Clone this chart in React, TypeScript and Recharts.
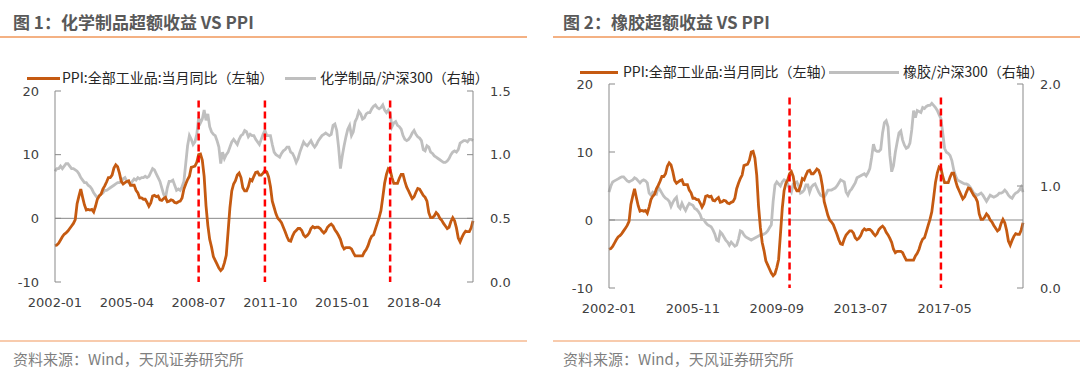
import React from "react";
import { LineChart, Line, XAxis, YAxis, ReferenceLine } from "recharts";

// monthly categories, 2002-01 .. 2020-12
const months: string[] = [];
for (let y = 2002; y <= 2020; y++) {
  for (let m = 1; m <= 12; m++) months.push(`${y}-${String(m).padStart(2, "0")}`);
}

// PPI:全部工业品:当月同比 (%)
const ppi = [
  -4.3, -4.2, -3.9, -3.4, -2.9, -2.5, -2.3, -2.0, -1.6, -1.2, -0.8, -0.2,
  2.3, 3.5, 4.6, 3.3, 2.1, 1.3, 1.4, 1.3, 1.4, 1.0, 1.9, 3.0,
  3.5, 3.8, 4.6, 5.1, 5.7, 6.4, 6.4, 6.8, 7.9, 8.4, 8.1, 7.1,
  5.8, 5.4, 5.6, 5.8, 5.9, 5.2, 5.2, 5.2, 4.4, 4.0, 3.2, 3.2,
  3.0, 3.0, 2.5, 1.9, 2.4, 3.5, 3.6, 3.4, 3.5, 2.9, 2.8, 3.1,
  3.3, 2.6, 2.7, 2.9, 2.8, 2.5, 2.4, 2.6, 2.7, 3.2, 4.6, 5.4,
  6.1, 6.6, 8.0, 8.1, 8.2, 8.8, 10.0, 10.1, 9.1, 6.6, 2.0, -1.1,
  -3.3, -4.5, -6.0, -6.6, -7.2, -7.8, -8.2, -7.9, -7.0, -5.8, -2.1, 1.7,
  4.3, 5.4, 5.9, 6.8, 7.1, 6.4, 4.8, 4.3, 4.3, 5.0, 6.1, 5.9,
  6.6, 7.2, 7.3, 6.8, 6.8, 7.1, 7.5, 7.3, 6.5, 5.0, 2.7, 1.7,
  0.7, 0.0, -0.3, -0.7, -1.4, -2.1, -2.9, -3.5, -3.6, -2.8, -2.2, -1.9,
  -1.6, -1.6, -1.9, -2.6, -2.9, -2.7, -2.3, -1.6, -1.3, -1.5, -1.4, -1.4,
  -1.6, -2.0, -2.3, -2.0, -1.4, -1.1, -0.9, -1.2, -1.8, -2.2, -2.7, -3.3,
  -4.3, -4.8, -4.6, -4.6, -4.6, -4.8, -5.4, -5.9, -5.9, -5.9, -5.9, -5.9,
  -5.3, -4.9, -4.3, -3.4, -2.8, -2.6, -1.7, -0.8, 0.1, 1.2, 3.3, 5.5,
  6.9, 7.8, 7.6, 6.4, 5.5, 5.5, 5.5, 6.3, 6.9, 6.9, 5.8, 4.9,
  4.3, 3.7, 3.1, 3.4, 4.1, 4.7, 4.6, 4.1, 3.6, 3.3, 2.7, 0.9,
  0.1, 0.1, 0.4, 0.9, 0.6, 0.0, -0.3, -0.8, -1.2, -1.6, -1.4, -0.5,
  0.1, -0.4, -1.5, -3.1, -3.7, -3.0, -2.4, -2.0, -2.1, -2.1, -1.5, -0.4,
];

// 化学制品/沪深300
const chemRel = [
  0.87, 0.89, 0.89, 0.91, 0.89, 0.91, 0.93, 0.93, 0.91, 0.89, 0.89, 0.88,
  0.87, 0.85, 0.82, 0.80, 0.78, 0.78, 0.76, 0.75, 0.73, 0.70, 0.68, 0.66,
  0.68, 0.69, 0.70, 0.72, 0.72, 0.73, 0.74, 0.75, 0.76, 0.77, 0.78, 0.78,
  0.79, 0.81, 0.82, 0.79, 0.78, 0.77, 0.79, 0.81, 0.80, 0.82, 0.81, 0.82,
  0.82, 0.83, 0.82, 0.83, 0.86, 0.89, 0.88, 0.85, 0.82, 0.79, 0.74, 0.69,
  0.66, 0.74, 0.79, 0.79, 0.80, 0.76, 0.72, 0.73, 0.72, 0.75, 0.79, 0.93,
  1.07, 1.15, 1.12, 1.08, 1.10, 1.16, 1.29, 1.25, 1.28, 1.35, 1.27, 1.32,
  1.22, 1.18, 1.16, 1.15, 1.11, 1.06, 0.93, 1.02, 0.97, 1.00, 1.02, 1.06,
  1.10, 1.12, 1.10, 1.08, 1.12, 1.15, 1.16, 1.19, 1.18, 1.14, 1.16, 1.15,
  1.15, 1.12, 1.10, 1.08, 1.12, 1.16, 1.19, 1.15, 1.15, 1.15, 1.08, 1.02,
  1.00, 0.99, 0.98, 1.01, 1.03, 1.04, 1.06, 1.06, 1.02, 1.01, 0.98, 0.94,
  0.97, 1.02, 1.06, 1.10, 1.08, 1.07, 1.09, 1.11, 1.08, 1.06, 1.08, 1.11,
  1.13, 1.15, 1.16, 1.17, 1.16, 1.15, 1.16, 1.23, 1.24, 1.19, 1.06, 0.89,
  0.99, 1.07, 1.14, 1.20, 1.23, 1.15, 1.18, 1.26, 1.29, 1.34, 1.32, 1.28,
  1.29, 1.32, 1.33, 1.33, 1.36, 1.38, 1.39, 1.37, 1.36, 1.37, 1.39, 1.35,
  1.33, 1.35, 1.32, 1.22, 1.25, 1.26, 1.23, 1.22, 1.20, 1.15, 1.12, 1.11,
  1.12, 1.14, 1.17, 1.19, 1.16, 1.14, 1.13, 1.11, 1.04, 1.03, 1.07, 1.06,
  1.02, 1.01, 0.99, 0.98, 0.97, 0.96, 0.95, 0.94, 0.94, 0.95, 0.97, 1.00,
  1.02, 1.03, 1.02, 1.04, 1.09, 1.10, 1.11, 1.11, 1.10, 1.12, 1.12, 1.11,
];

// 橡胶/沪深300
const rubberRel = [
  0.94, 1.00, 1.04, 1.05, 1.06, 1.07, 1.08, 1.09, 1.09, 1.07, 1.05, 1.04,
  1.05, 1.06, 1.08, 1.07, 1.05, 1.03, 1.05, 1.06, 1.05, 1.03, 0.93, 0.91,
  0.94, 0.93, 0.92, 0.99, 0.96, 0.93, 0.90, 0.88, 0.87, 0.85, 0.80, 0.84,
  0.87, 0.89, 0.80, 0.78, 0.83, 0.79, 0.76, 0.80, 0.83, 0.82, 0.81, 0.78,
  0.77, 0.75, 0.72, 0.67, 0.67, 0.64, 0.62, 0.61, 0.60, 0.57, 0.53, 0.47,
  0.46, 0.55, 0.53, 0.50, 0.47, 0.45, 0.42, 0.45, 0.43, 0.41, 0.42, 0.48,
  0.56, 0.55, 0.52, 0.50, 0.49, 0.48, 0.47, 0.48, 0.49, 0.50, 0.51, 0.52,
  0.52, 0.53, 0.54, 0.56, 0.59, 0.62, 0.85, 1.01, 1.04, 1.02, 1.00, 1.04,
  1.06, 1.05, 1.02, 0.97, 0.94, 1.02, 1.03, 1.04, 1.00, 0.93, 0.94, 0.96,
  1.01, 1.01, 0.94, 0.99, 1.01, 1.02, 0.98, 0.94, 0.91, 0.90, 0.89, 0.92,
  0.96, 0.96, 0.96, 0.97, 0.98, 1.00, 1.03, 1.06, 1.05, 1.04, 0.94, 0.91,
  0.95, 0.97, 1.00, 1.03, 1.08, 1.09, 1.10, 1.11, 1.12, 1.10, 1.13, 1.17,
  1.28, 1.41, 1.35, 1.34, 1.34, 1.36, 1.52, 1.62, 1.64, 1.58, 1.30, 1.14,
  1.20, 1.33, 1.43, 1.52, 1.54, 1.45, 1.40, 1.37, 1.38, 1.42, 1.55, 1.74,
  1.67, 1.74, 1.73, 1.72, 1.77, 1.76, 1.78, 1.79, 1.79, 1.81, 1.79, 1.77,
  1.74, 1.70, 1.66, 1.52, 1.37, 1.33, 1.32, 1.30, 1.25, 1.16, 1.10, 1.06,
  1.05, 1.04, 1.03, 1.02, 1.02, 1.01, 0.99, 0.96, 0.93, 0.92, 0.91, 0.92,
  0.93, 0.91, 0.88, 0.85, 0.88, 0.91, 0.90, 0.89, 0.90, 0.91, 0.93, 0.93,
  0.94, 0.96, 0.94, 0.91, 0.89, 0.88, 0.91, 0.93, 0.94, 0.96, 0.99, 0.94,
];

const chemMarks = ["2008-07", "2011-07", "2017-03"];
const rubberMarks = ["2010-04", "2017-03"];

const leftTicks = [-10, 0, 10, 20];
const chemRightTicks = [0, 0.5, 1.0, 1.5];
const rubberRightTicks = [0, 1.0, 2.0];

const ORANGE = "#C55A11";
const GRAY = "#BFBFBF";
const AXIS = "#898989";
const CJK = '"Noto Sans CJK SC", "Noto Sans", sans-serif';
const NUM = '"DejaVu Sans", sans-serif';

const tickStyle = { fontSize: 13, fill: "#404040", fontFamily: NUM };

type PanelProps = {
  left: number;
  title: string;
  relName: string;
  rel: number[];
  marks: string[];
  markTop: number;
  rightMax: number;
  rightTicks: number[];
  interval: number;
  margin: { top: number; right: number; bottom: number; left: number };
  legend: { y: number; seg1: [number, number]; text1: number; seg2: [number, number]; text2: number };
  ruleFrom: number;
  ruleTo: number;
  textX: number;
};

function Panel(p: PanelProps) {
  const data = months.map((m, i) => ({ month: m, ppi: ppi[i], rel: p.rel[i] }));
  const lg = p.legend;
  return (
    <>
      <div style={{ position: "absolute", left: p.textX, top: 11, fontFamily: CJK, fontSize: 17, fontWeight: 700, color: "#595959", lineHeight: "22px", whiteSpace: "nowrap" }}>
        {p.title}
      </div>
      <div style={{ position: "absolute", left: p.ruleFrom, top: 36, width: p.ruleTo - p.ruleFrom, height: 2, background: "#F4B183" }} />

      <div style={{ position: "absolute", left: lg.seg1[0], top: lg.y - 1.5, width: lg.seg1[1] - lg.seg1[0], height: 3, background: ORANGE }} />
      <div style={{ position: "absolute", left: lg.text1, top: lg.y - 11, fontFamily: CJK, fontSize: 14, color: "#262626", lineHeight: "20px", whiteSpace: "nowrap" }}>
        PPI:全部工业品:当月同比（左轴）
      </div>
      <div style={{ position: "absolute", left: lg.seg2[0], top: lg.y - 1.5, width: lg.seg2[1] - lg.seg2[0], height: 3, background: GRAY }} />
      <div style={{ position: "absolute", left: lg.text2, top: lg.y - 11, fontFamily: CJK, fontSize: 14, color: "#262626", lineHeight: "20px", whiteSpace: "nowrap" }}>
        {p.relName}（右轴）
      </div>

      <div style={{ position: "absolute", left: p.left, top: 0 }}>
        <LineChart width={540} height={376} data={data} margin={p.margin}>
          <XAxis
            dataKey="month"
            interval={p.interval}
            axisLine={false}
            tickLine={false}
            tickSize={6}
            tickMargin={10}
            height={30}
            tick={tickStyle}
          />
          <YAxis
            yAxisId="left"
            domain={[-10, 20]}
            ticks={leftTicks}
            width={50}
            stroke={AXIS}
            tickSize={-6}
            tickMargin={22}
            tick={tickStyle}
          />
          <YAxis
            yAxisId="right"
            orientation="right"
            domain={[0, p.rightMax]}
            ticks={p.rightTicks}
            width={50}
            stroke={AXIS}
            tickSize={-6}
            tickMargin={23}
            tick={tickStyle}
            tickFormatter={(v: number) => v.toFixed(1)}
          />
          <ReferenceLine yAxisId="left" y={0} stroke={AXIS} strokeWidth={1} />
          <Line yAxisId="right" dataKey="rel" stroke={GRAY} strokeWidth={2.8} dot={false} isAnimationActive={false} />
          <Line yAxisId="left" dataKey="ppi" stroke={ORANGE} strokeWidth={2.8} dot={false} isAnimationActive={false} />
          {p.marks.map((m) => (
            <ReferenceLine
              key={m}
              yAxisId="left"
              segment={[{ x: m, y: p.markTop }, { x: m, y: -10 }]}
              stroke="#FF0000"
              strokeWidth={2.5}
              strokeDasharray="7 4"
            />
          ))}
        </LineChart>
      </div>

      <div style={{ position: "absolute", left: p.ruleFrom, top: 340, width: p.ruleTo - p.ruleFrom, height: 2, background: "#F8CBAD" }} />
      <div style={{ position: "absolute", left: p.textX, top: 349, fontFamily: CJK, fontSize: 15, color: "#7F7F7F", lineHeight: "20px", whiteSpace: "nowrap" }}>
        资料来源：Wind，天风证券研究所
      </div>
    </>
  );
}

export default function App() {
  return (
    <div style={{ position: "fixed", left: 0, top: 0, width: 1080, height: 376, background: "#fff", overflow: "hidden" }}>
      <Panel
        left={0}
        title="图 1：化学制品超额收益 VS PPI"
        relName="化学制品/沪深300"
        rel={chemRel}
        marks={chemMarks}
        markTop={18.5}
        rightMax={1.5}
        rightTicks={chemRightTicks}
        interval={38}
        margin={{ top: 91, right: 17, bottom: 64, left: 5 }}
        legend={{ y: 78, seg1: [27, 60], text1: 62, seg2: [285, 316], text2: 320 }}
        ruleFrom={0}
        ruleTo={527}
        textX={13}
      />
      <Panel
        left={540}
        title="图 2：橡胶超额收益 VS PPI"
        relName="橡胶/沪深300"
        rel={rubberRel}
        marks={rubberMarks}
        markTop={18}
        rightMax={2}
        rightTicks={rubberRightTicks}
        interval={45}
        margin={{ top: 84, right: 7, bottom: 58, left: 19 }}
        legend={{ y: 72, seg1: [580, 618], text1: 623, seg2: [829, 899], text2: 903 }}
        ruleFrom={553}
        ruleTo={1080}
        textX={563}
      />
    </div>
  );
}
